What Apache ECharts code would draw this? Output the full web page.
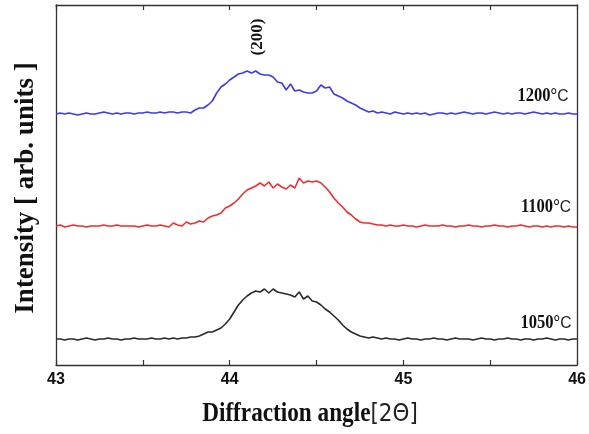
<!DOCTYPE html>
<html>
<head>
<meta charset="utf-8">
<script src="https://cdn.jsdelivr.net/npm/echarts@6/dist/echarts.min.js"></script>
<style>
  html, body { margin: 0; padding: 0; background: #fff; }
  #chart { width: 589px; height: 434px; }
</style>
</head>
<body>
<div id="chart"></div>
<script>
// diffraction angle (2theta), step 0.025
var angle = [
  43.000,43.025,43.050,43.075,43.100,43.125,43.150,43.175,43.200,43.225,
  43.250,43.275,43.300,43.325,43.350,43.375,43.400,43.425,43.450,43.475,
  43.500,43.525,43.550,43.575,43.600,43.625,43.650,43.675,43.700,43.725,
  43.750,43.775,43.800,43.825,43.850,43.875,43.900,43.925,43.950,43.975,
  44.000,44.025,44.050,44.075,44.100,44.125,44.150,44.175,44.200,44.225,
  44.250,44.275,44.300,44.325,44.350,44.375,44.400,44.425,44.450,44.475,
  44.500,44.525,44.550,44.575,44.600,44.625,44.650,44.675,44.700,44.725,
  44.750,44.775,44.800,44.825,44.850,44.875,44.900,44.925,44.950,44.975,
  45.000,45.025,45.050,45.075,45.100,45.125,45.150,45.175,45.200,45.225,
  45.250,45.275,45.300,45.325,45.350,45.375,45.400,45.425,45.450,45.475,
  45.500,45.525,45.550,45.575,45.600,45.625,45.650,45.675,45.700,45.725,
  45.750,45.775,45.800,45.825,45.850,45.875,45.900,45.925,45.950,45.975,
  46.000
];

// intensities (offset stacked, arb. units)
var t1200 = [
  251,252,251,252,251,250,251,252,251,251,
  252,253,252,251,252,251,252,252,251,252,
  252,253,252,252,253,252,253,253,252,253,
  253,252,255,257,257,260,264,272,278,281,
  285,288,291,292,294,292,294,291,290,290,
  288,283,282,275,281,274,275,273,272,272,
  274,280,277,278,271,269,267,264,262,260,
  257,255,253,254,252,253,252,251,253,252,
  251,252,251,252,251,252,250,251,252,252,
  251,252,251,252,253,252,251,252,252,251,
  252,253,252,251,252,251,252,252,251,252,
  253,252,251,252,251,252,251,251,252,251,
  251
];
var t1100 = [
  139,140,138,139,140,139,139,138,139,139,
  139,140,139,139,140,139,139,139,139,138,
  139,140,139,139,140,139,138,142,140,139,
  143,141,142,144,143,147,149,150,152,157,
  159,162,166,171,175,177,179,182,179,183,
  177,181,178,176,180,177,187,182,184,183,
  184,182,178,173,167,162,158,153,150,146,
  143,142,142,141,140,140,139,140,139,139,
  140,139,139,138,139,140,139,139,139,140,
  139,139,138,139,139,140,139,139,138,139,
  139,140,139,139,138,139,139,140,139,138,
  139,139,138,139,138,139,139,138,139,138,
  138
];
var t1050 = [
  26,26,25,26,26,25,26,27,26,25,
  26,26,27,26,26,25,26,26,27,26,
  26,26,27,26,26,27,26,27,26,27,
  27,28,28,29,31,33,33,35,37,41,
  46,53,60,65,69,72,74,73,76,72,
  76,73,72,71,70,68,73,66,69,64,
  63,60,56,53,49,45,40,36,33,31,
  29,28,27,28,27,26,27,26,26,25,
  26,27,26,26,25,26,26,27,26,26,
  25,26,27,26,26,26,25,26,27,26,
  26,25,26,26,27,26,26,25,26,26,
  25,26,26,27,26,25,26,26,25,26,
  26
];
var xTicks = [43, 44, 45, 46];

function pairs(ys) {
  return angle.map(function(a, i) { return [a, ys[i]]; });
}

var chart = echarts.init(document.getElementById('chart'), null, { renderer: 'canvas' });
var axisCol = '#333';
var serif = '"Liberation Serif", "Times New Roman", serif';
var sans = '"Liberation Sans", Arial, sans-serif';

var xCommon = {
  type: 'value', min: 43, max: 46, interval: 0.5,
  axisLine: { show: true, onZero: false, lineStyle: { color: axisCol, width: 1.3 } },
  axisTick: { show: true, inside: true, length: 5, lineStyle: { color: axisCol, width: 1.2 } },
  splitLine: { show: false }
};

function tempLabel(t) {
  return '{b|' + t + '°}{l|C}';
}
var tempRich = {
  b: { fontFamily: serif, fontWeight: 'bold', fontSize: 18, fill: '#111' },
  l: { fontFamily: sans, fontSize: 17, fill: '#222' }
};

chart.setOption({
  animation: false,
  backgroundColor: '#fff',
  grid: { left: 56, right: 11, top: 5, bottom: 69 },
  xAxis: [
    Object.assign({}, xCommon, {
      position: 'bottom',
      axisLabel: {
        color: '#111', fontFamily: sans, fontWeight: 'bold', fontSize: 16, margin: 7,
        formatter: function(v) { return xTicks.indexOf(v) >= 0 ? String(v) : ''; }
      }
    }),
    Object.assign({}, xCommon, { position: 'top', axisLabel: { show: false } })
  ],
  yAxis: [
    { type: 'value', min: 0, max: 360, position: 'left',
      axisLine: { show: true, lineStyle: { color: axisCol, width: 1.3 } },
      axisTick: { show: false }, axisLabel: { show: false }, splitLine: { show: false } },
    { type: 'value', min: 0, max: 360, position: 'right',
      axisLine: { show: true, lineStyle: { color: axisCol, width: 1.3 } },
      axisTick: { show: false }, axisLabel: { show: false }, splitLine: { show: false } }
  ],
  series: [
    { name: '1200°C', type: 'line', data: pairs(t1200), showSymbol: false,
      lineStyle: { color: '#3b3bef', width: 1.6 } },
    { name: '1100°C', type: 'line', data: pairs(t1100), showSymbol: false,
      lineStyle: { color: '#ec2f2f', width: 1.6 } },
    { name: '1050°C', type: 'line', data: pairs(t1050), showSymbol: false,
      lineStyle: { color: '#2a2a2a', width: 1.6 } }
  ],
  graphic: [
    { type: 'text', x: 310, y: 414, scaleX: 0.86,
      style: {
        text: '{b|Diffraction angle}{l|[2Θ]}', align: 'center', verticalAlign: 'middle',
        rich: {
          b: { fontFamily: serif, fontWeight: 'bold', fontSize: 27, fill: '#111' },
          l: { fontFamily: '"DejaVu Sans", sans-serif', fontWeight: 'normal', fontSize: 25, fill: '#222' }
        }
      } },
    { type: 'text', x: 26, y: 188, rotation: Math.PI / 2,
      style: { text: 'Intensity [ arb. units ]', align: 'center', verticalAlign: 'middle',
        fontFamily: serif, fontWeight: 'bold', fontSize: 27, fill: '#111' } },
    { type: 'text', x: 258, y: 37, rotation: Math.PI / 2,
      style: { text: '(200)', align: 'center', verticalAlign: 'middle',
        fontFamily: serif, fontWeight: 'bold', fontSize: 17, fill: '#111' } },
    { type: 'text', x: 543, y: 96, scaleX: 0.92,
      style: { text: tempLabel(1200), align: 'center', verticalAlign: 'middle', rich: tempRich } },
    { type: 'text', x: 546, y: 207, scaleX: 0.92,
      style: { text: tempLabel(1100), align: 'center', verticalAlign: 'middle', rich: tempRich } },
    { type: 'text', x: 546, y: 323, scaleX: 0.92,
      style: { text: tempLabel(1050), align: 'center', verticalAlign: 'middle', rich: tempRich } }
  ]
});
window.addEventListener('resize', function() { chart.resize(); });
</script>
</body>
</html>
